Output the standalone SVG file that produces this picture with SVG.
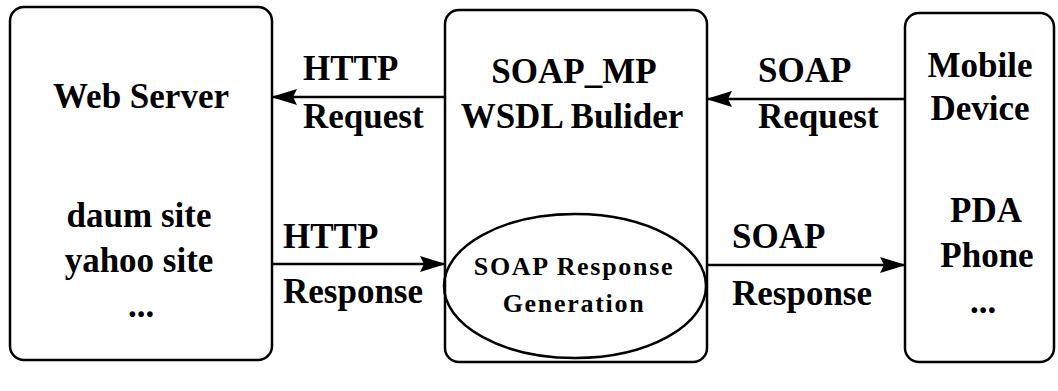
<svg xmlns="http://www.w3.org/2000/svg" width="1058" height="391" viewBox="0 0 1058 391">
  <style>
    .box { fill: #ffffff; stroke: #000000; stroke-width: 2.5; }
    .t { font-family: "Liberation Serif", "Times New Roman", serif; font-weight: bold; font-size: 35px; fill: #000000; }
    .c { text-anchor: middle; }
    .small { font-size: 26px; letter-spacing: 1.7px; }
    .link { stroke: #000000; stroke-width: 2.5; fill: none; marker-end: url(#head); }
  </style>
  <defs>
    <marker id="head" viewBox="0 0 26 16" refX="25" refY="8" markerWidth="26" markerHeight="16" markerUnits="userSpaceOnUse" orient="auto">
      <path d="M0,0 L26,8 L0,16 L4,8 z" fill="#000000"/>
    </marker>
  </defs>
  <rect width="1058" height="391" fill="#ffffff"/>

  <g id="web-server">
    <rect class="box" x="10" y="7" width="262" height="353" rx="14"/>
    <text class="t c" x="141" y="108">Web Server</text>
    <text class="t c" x="139" y="227">daum site</text>
    <text class="t c" x="139" y="272">yahoo site</text>
    <text class="t c" x="141" y="317">...</text>
  </g>

  <g id="soap-mp">
    <rect class="box" x="445" y="10" width="262" height="352" rx="14"/>
    <text class="t c" x="574" y="83">SOAP_MP</text>
    <text class="t c" x="572" y="128">WSDL Bulider</text>
  </g>

  <g id="response-generation">
    <ellipse cx="575" cy="286" rx="131" ry="72" fill="none" stroke="#000000" stroke-width="2.5"/>
    <text class="t c small" x="574" y="275">SOAP Response</text>
    <text class="t c small" x="574" y="312">Generation</text>
  </g>

  <g id="mobile-device">
    <rect class="box" x="905" y="13" width="149" height="349" rx="14"/>
    <text class="t c" x="980" y="77">Mobile</text>
    <text class="t c" x="980" y="120">Device</text>
    <text class="t c" x="986" y="222">PDA</text>
    <text class="t c" x="987" y="267">Phone</text>
    <text class="t c" x="983" y="313">...</text>
  </g>

  <g id="connectors">
    <line class="link" x1="445" y1="97" x2="272" y2="97"/>
    <line class="link" x1="272" y1="264" x2="445" y2="264"/>
    <line class="link" x1="905" y1="99" x2="707" y2="99"/>
    <line class="link" x1="707" y1="265" x2="905" y2="265"/>
    <text class="t" x="303" y="80">HTTP</text>
    <text class="t" x="303" y="128">Request</text>
    <text class="t" x="283" y="248">HTTP</text>
    <text class="t" x="283" y="303">Response</text>
    <text class="t" x="758" y="82">SOAP</text>
    <text class="t" x="758" y="128">Request</text>
    <text class="t" x="732" y="248">SOAP</text>
    <text class="t" x="732" y="305">Response</text>
  </g>
</svg>
